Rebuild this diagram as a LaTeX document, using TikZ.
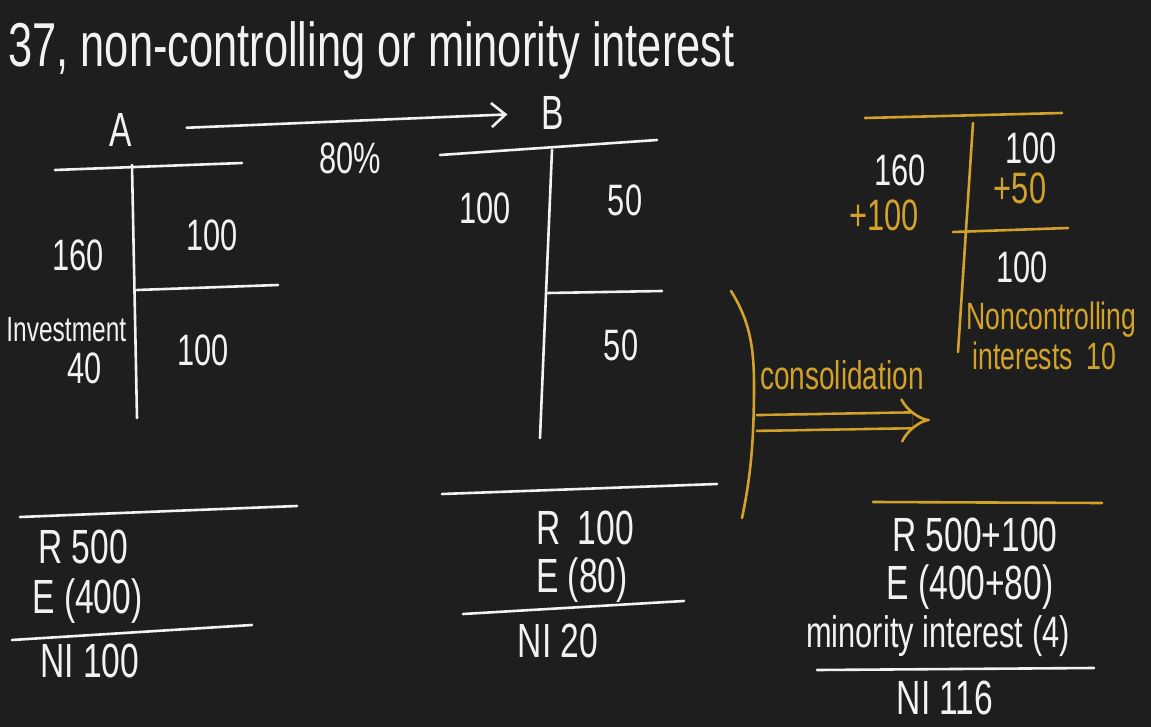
\documentclass[tikz,border=0pt]{standalone}
\usepackage{fontspec}
\newfontfamily\hand[FakeStretch=0.7]{Liberation Sans}
\usetikzlibrary{arrows.meta, positioning}
\definecolor{board}{HTML}{1E1E1E}
\definecolor{chalk}{HTML}{F2F2F2}
\definecolor{gold}{HTML}{D2A22A}

\begin{document}
\begin{tikzpicture}[
      x=0.5pt, y=-0.5pt,
      txt/.style={font=\hand\fontsize{22}{26}\selectfont, text=chalk, inner sep=0pt},
      goldtxt/.style={txt, text=gold},
      big/.style={font=\hand\fontsize{24}{28}\selectfont},
      small/.style={font=\hand\fontsize{19}{21}\selectfont},
      stroke/.style={chalk, line width=1.3pt, line cap=round},
      goldstroke/.style={stroke, draw=gold},
      arrow/.style={-{Straight Barb[length=7pt, width=12pt]}, stroke}
    ]
    \fill[board] (0,0) rectangle (1151,727);
    \useasboundingbox (0,0) rectangle (1151,727);

    % title
    \node[txt, anchor=west, font=\hand\fontsize{31}{34}\selectfont] (title) at (8,50)
      {37, non-controlling or minority interest};

    % companies
    \node[txt, big] (A) at (121,130) {A};
    \node[txt, big] (B) at (553,113) {B};
    \node[txt] (pct) at (350,158) {80\%};
    \draw[arrow, shorten <=27pt, shorten >=17pt] (A.east) -- (B.west);

    % T-account of A
    \draw[stroke] (55,170) -- (242,163);
    \draw[stroke] (132,165) -- (137,418);
    \draw[stroke] (137,290) -- (278,285);
    \node[txt] (a160) at (78,255) {160};
    \node[txt] (a100) at (212,235) {100};
    \node[txt, font=\hand\fontsize{17.5}{20}\selectfont, anchor=west] (inv) at (6,330) {Investment};
    \node[txt] (a40) at (85,368) {40};
    \node[txt] (a100b) at (203,350) {100};

    % T-account of B
    \draw[stroke] (440,155) -- (657,140);
    \draw[stroke] (552,150) -- (540,438);
    \draw[stroke] (548,293) -- (662,291);
    \node[txt] (b100) at (485,208) {100};
    \node[txt] (b50) at (625,200) {50};
    \node[txt] (b50b) at (621,345) {50};

    % income statements
    \draw[stroke] (20,517) -- (297,506);
    \node[txt, big, anchor=west] (aR) at (38,547) {R 500};
    \node[txt, big, anchor=west] (aE) at (32,601) {E (400)};
    \draw[stroke] (12,640) -- (252,625);
    \node[txt, big, anchor=west] (aNI) at (40,661) {NI 100};

    \draw[stroke] (442,494) -- (717,484);
    \node[txt, big] (bR) at (585,528) {R\, 100};
    \node[txt, big] (bE) at (582,580) {E (80)};
    \draw[stroke] (463,614) -- (684,601);
    \node[txt, big] (bNI) at (558,641) {NI 20};

    % consolidation
    \draw[goldstroke] (731,291) .. controls (749,320) and (754,345) .. (754,385)
      .. controls (754,445) and (750,480) .. (742,518);
    \node[goldtxt, font=\hand\fontsize{20}{22}\selectfont] (cons) at (842,375) {consolidation};
    \coordinate (cs) at (756,423);
    \coordinate (ce) at (930,420);
    \draw[goldstroke, line cap=butt, double=board, double distance=6.6pt, -{Implies}] (cs) -- (ce);

    % consolidated T-account
    \draw[goldstroke] (865,118) -- (1062,113);
    \draw[goldstroke] (973,123) -- (958,352);
    \draw[goldstroke] (953,232) -- (1068,228);
    \node[txt] (c160) at (900,170) {160};
    \node[goldtxt] (c100p) at (884,215) {+100};
    \node[txt] (c100) at (1031,148) {100};
    \node[goldtxt] (c50) at (1020,188) {+50};
    \node[txt] (c100b) at (1022,267) {100};
    \node[goldtxt, small, anchor=west] (nci) at (966,320) {Noncontrolling};
    \node[goldtxt, small, anchor=west] (nci2) at (972,356) {interests\, 10};

    % consolidated income statement
    \draw[goldstroke] (873,502) -- (1102,503);
    \node[txt, big] (cR) at (975,535) {R 500+100};
    \node[txt, big] (cE) at (970,587) {E (400+80)};
    \node[txt] (cM) at (938,636) {minority interest (4)};
    \draw[stroke] (817,670) -- (1094,668);
    \node[txt, big] (cNI) at (945,698) {NI 116};
  \end{tikzpicture}
\end{document}
